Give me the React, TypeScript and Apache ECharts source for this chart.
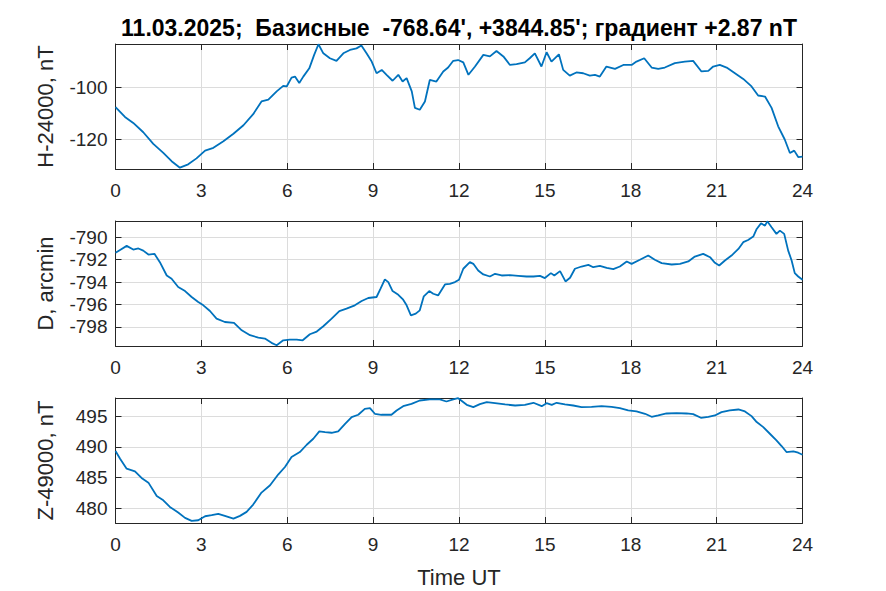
import React, { useEffect, useRef } from "react";
import * as echarts from "echarts";

const titleText = "11.03.2025;  Базисные  -768.64', +3844.85'; градиент +2.87 nT";
const xTicks = [0, 3, 6, 9, 12, 15, 18, 21, 24];

const hHours = [0, 0.33, 0.62, 0.97, 1.32, 1.67, 1.96, 2.25, 2.54, 2.83, 3.13, 3.42, 3.77, 4.12, 4.47, 4.81, 5.1, 5.34, 5.63, 5.86, 5.98, 6.15, 6.27, 6.42, 6.56, 6.77, 6.94, 7.09, 7.26, 7.49, 7.72, 7.96, 8.19, 8.42, 8.59, 8.77, 8.95, 9.12, 9.3, 9.47, 9.68, 9.88, 10.03, 10.17, 10.35, 10.46, 10.63, 10.81, 10.98, 11.21, 11.45, 11.62, 11.8, 11.97, 12.15, 12.33, 12.56, 12.85, 13.08, 13.31, 13.55, 13.78, 14.01, 14.3, 14.47, 14.65, 14.88, 15.06, 15.23, 15.49, 15.64, 15.87, 16.1, 16.34, 16.57, 16.75, 16.92, 17.15, 17.45, 17.74, 18.03, 18.2, 18.47, 18.73, 18.96, 19.19, 19.54, 19.89, 20.18, 20.47, 20.71, 20.88, 21.11, 21.35, 21.64, 21.93, 22.22, 22.45, 22.69, 22.92, 23.15, 23.38, 23.56, 23.71, 23.85, 24];
const hValues = [-107.6, -111.4, -113.7, -117.3, -121.8, -125.3, -128.5, -131.0, -129.7, -127.4, -124.4, -123.3, -120.8, -117.9, -114.6, -110.3, -105.4, -104.7, -101.5, -99.4, -99.6, -96.2, -95.8, -98.3, -95.8, -92.6, -87.4, -83.3, -86.8, -88.7, -89.7, -86.8, -85.5, -84.9, -83.8, -86.8, -90.0, -94.5, -93.2, -95.1, -97.4, -95.1, -97.7, -96.4, -101.5, -107.9, -108.6, -105.4, -97.1, -97.7, -93.8, -92.3, -89.7, -89.4, -90.3, -95.1, -91.9, -87.4, -88.0, -85.9, -88.0, -91.3, -91.0, -90.3, -88.7, -86.8, -91.9, -86.4, -90.0, -87.2, -93.2, -95.4, -94.2, -94.5, -95.4, -95.1, -95.8, -91.9, -92.8, -91.3, -91.3, -90.0, -88.7, -92.3, -92.8, -92.3, -90.6, -90.0, -89.7, -93.8, -93.6, -91.9, -91.3, -92.3, -94.5, -96.7, -99.6, -103.1, -103.5, -107.9, -115.0, -120.1, -125.3, -124.4, -126.9, -126.7];
const hTicks = [-120, -100];

const dHours = [0, 0.16, 0.39, 0.62, 0.8, 0.97, 1.15, 1.36, 1.55, 1.79, 1.96, 2.19, 2.43, 2.66, 2.89, 3.07, 3.3, 3.53, 3.82, 4.14, 4.41, 4.7, 4.99, 5.22, 5.45, 5.63, 5.86, 6.09, 6.33, 6.54, 6.79, 7.03, 7.26, 7.55, 7.82, 8.07, 8.36, 8.6, 8.83, 9.12, 9.26, 9.41, 9.53, 9.68, 9.88, 10.05, 10.17, 10.32, 10.49, 10.63, 10.77, 10.96, 11.1, 11.27, 11.51, 11.68, 11.86, 12.0, 12.15, 12.38, 12.5, 12.67, 12.85, 13.08, 13.26, 13.49, 13.78, 14.07, 14.36, 14.6, 14.83, 15.0, 15.21, 15.33, 15.53, 15.72, 15.88, 16.05, 16.28, 16.52, 16.69, 16.92, 17.16, 17.39, 17.62, 17.86, 18.03, 18.32, 18.61, 18.84, 19.08, 19.43, 19.72, 20.01, 20.24, 20.53, 20.77, 20.94, 21.09, 21.29, 21.52, 21.76, 21.93, 22.1, 22.28, 22.4, 22.55, 22.69, 22.77, 22.92, 23.09, 23.21, 23.36, 23.5, 23.62, 23.73, 23.85, 24];
const dValues = [-791.39, -791.13, -790.77, -791.1, -791.0, -791.19, -791.54, -791.48, -792.22, -793.41, -793.7, -794.44, -794.8, -795.33, -795.78, -796.07, -796.58, -797.26, -797.56, -797.64, -798.3, -798.74, -798.95, -799.04, -799.42, -799.63, -799.19, -799.13, -799.13, -799.19, -798.65, -798.41, -797.94, -797.26, -796.58, -796.37, -796.07, -795.69, -795.42, -795.33, -794.59, -793.76, -794.0, -794.8, -795.13, -795.57, -796.07, -796.96, -796.81, -796.52, -795.27, -794.8, -795.04, -795.19, -794.21, -794.15, -794.0, -793.79, -792.81, -792.22, -792.37, -792.96, -793.32, -793.5, -793.26, -793.41, -793.38, -793.44, -793.5, -793.5, -793.44, -793.64, -793.2, -793.41, -793.02, -793.94, -793.61, -792.81, -792.61, -792.46, -792.67, -792.55, -792.73, -792.84, -792.61, -792.16, -792.37, -792.01, -791.63, -792.01, -792.31, -792.43, -792.37, -792.16, -791.72, -791.48, -791.78, -792.28, -792.52, -792.07, -791.63, -791.04, -790.44, -790.24, -789.94, -789.26, -788.76, -788.96, -788.58, -789.11, -789.7, -789.41, -789.7, -791.19, -792.07, -793.2, -793.5, -793.79];
const dTicks = [-798, -796, -794, -792, -790];

const zHours = [0, 0.16, 0.39, 0.68, 0.91, 1.15, 1.44, 1.67, 1.9, 2.19, 2.43, 2.66, 2.89, 3.13, 3.36, 3.59, 3.82, 4.12, 4.35, 4.58, 4.81, 5.1, 5.4, 5.69, 5.92, 6.15, 6.44, 6.68, 6.91, 7.12, 7.32, 7.55, 7.78, 8.02, 8.25, 8.48, 8.71, 8.89, 9.06, 9.29, 9.64, 9.82, 10.05, 10.34, 10.63, 10.98, 11.33, 11.56, 11.8, 11.97, 12.03, 12.27, 12.5, 12.73, 12.97, 13.26, 13.61, 13.96, 14.3, 14.6, 14.89, 15.06, 15.24, 15.41, 15.7, 15.99, 16.28, 16.63, 16.98, 17.33, 17.62, 17.91, 18.2, 18.5, 18.73, 18.96, 19.25, 19.6, 19.95, 20.18, 20.45, 20.71, 20.94, 21.17, 21.46, 21.76, 21.99, 22.22, 22.4, 22.63, 22.86, 23.09, 23.27, 23.44, 23.68, 23.85, 24];
const zValues = [489.32, 488.07, 486.45, 486.01, 484.93, 484.17, 482.0, 481.3, 480.22, 479.3, 478.43, 477.95, 478.05, 478.7, 478.87, 479.08, 478.76, 478.32, 478.76, 479.41, 480.6, 482.55, 483.74, 485.53, 486.72, 488.34, 489.15, 490.34, 491.32, 492.51, 492.4, 492.29, 492.51, 493.75, 494.84, 495.22, 496.19, 496.3, 495.38, 495.22, 495.22, 495.92, 496.62, 497.0, 497.54, 497.71, 497.71, 497.38, 497.71, 497.92, 497.71, 496.84, 496.46, 496.95, 497.27, 497.11, 496.9, 496.73, 496.84, 497.17, 496.62, 497.11, 496.84, 497.17, 496.9, 496.73, 496.46, 496.52, 496.62, 496.52, 496.3, 495.92, 495.76, 495.38, 494.89, 495.11, 495.43, 495.49, 495.43, 495.32, 494.73, 494.89, 495.11, 495.65, 495.92, 496.08, 495.76, 495.0, 494.03, 493.21, 492.13, 491.05, 490.13, 489.15, 489.26, 489.04, 488.72];
const zTicks = [480, 485, 490, 495];

const panels = [
  { name: "H-24000, nT", hours: hHours, values: hValues, ticks: hTicks, min: -131.5, max: -83.2 },
  { name: "D, arcmin", hours: dHours, values: dValues, ticks: dTicks, min: -799.7, max: -788.55 },
  { name: "Z-49000, nT", hours: zHours, values: zValues, ticks: zTicks, min: 477.6, max: 497.95 },
];

const FONT = "'Liberation Sans', Arial, Helvetica, sans-serif";
const AXIS = "#262626";
const GRIDC = "#dcdcdc";
const BLUE = "#0072BD";

export default function App() {
  const ref = useRef<HTMLDivElement>(null);
  useEffect(() => {
    if (!ref.current) return;
    const chart = echarts.init(ref.current, undefined, { renderer: "svg" });
    const left = 115.5;
    const right = 886 - 802.5;
    const tops = [44, 221, 398];
    const h = 125;
    const grid: any[] = [];
    const xAxis: any[] = [];
    const yAxis: any[] = [];
    const series: any[] = [];
    panels.forEach((p, i) => {
      grid.push({ left, right, top: tops[i], height: h, containLabel: false });
      const tickStyle = { show: true, inside: true, length: 6, lineStyle: { color: AXIS, width: 1 } };
      xAxis.push({
        type: "value", gridIndex: i, min: xTicks[0], max: xTicks[xTicks.length - 1], interval: 3, position: "bottom",
        axisLine: { show: true, onZero: false, lineStyle: { color: AXIS, width: 1 } },
        axisTick: tickStyle,
        axisLabel: { color: AXIS, fontSize: 19, fontFamily: FONT, margin: 12 },
        splitLine: { show: true, lineStyle: { color: GRIDC, width: 1 } },
        name: i === 2 ? "Time UT" : "",
        nameLocation: "middle", nameGap: 43,
        nameTextStyle: { color: AXIS, fontSize: 22, fontFamily: FONT },
      });
      xAxis.push({
        type: "value", gridIndex: i, min: xTicks[0], max: xTicks[xTicks.length - 1], interval: 3, position: "top",
        axisLine: { show: true, onZero: false, lineStyle: { color: AXIS, width: 1 } },
        axisTick: tickStyle, axisLabel: { show: false }, splitLine: { show: false },
      });
      yAxis.push({
        type: "value", gridIndex: i, min: p.min, max: p.max, position: "left",
        axisLine: { show: true, onZero: false, lineStyle: { color: AXIS, width: 1 } },
        axisTick: { ...tickStyle, customValues: p.ticks },
        axisLabel: { color: AXIS, fontSize: 19, fontFamily: FONT, margin: 8, customValues: p.ticks },
        splitLine: { show: true, lineStyle: { color: GRIDC, width: 1 } },
        name: p.name, nameLocation: "middle", nameGap: 59, nameRotate: 90,
        nameTextStyle: { color: AXIS, fontSize: 22, fontFamily: FONT },
      });
      yAxis.push({
        type: "value", gridIndex: i, min: p.min, max: p.max, position: "right",
        axisLine: { show: true, onZero: false, lineStyle: { color: AXIS, width: 1 } },
        axisTick: { ...tickStyle, customValues: p.ticks },
        axisLabel: { show: false, customValues: p.ticks }, splitLine: { show: false },
      });
      series.push({
        type: "line", xAxisIndex: i * 2, yAxisIndex: i * 2, showSymbol: false, symbol: "none",
        data: p.hours.map((x, k) => [x, p.values[k]]),
        lineStyle: { color: BLUE, width: 1.8 }, z: 3,
      });
    });
    chart.setOption({
      animation: false,
      backgroundColor: "#ffffff",
      grid, xAxis, yAxis, series,
      graphic: [{
        type: "text", x: (115.5 + 802.5) / 2, y: 28,
        style: { text: titleText, fill: "#000000", font: `bold 23px ${FONT}`, textAlign: "center", textVerticalAlign: "middle" },
      }],
    });
    return () => chart.dispose();
  }, []);
  return <div ref={ref} style={{ position: "absolute", left: 0, top: 0, width: 886, height: 591 }} />;
}
